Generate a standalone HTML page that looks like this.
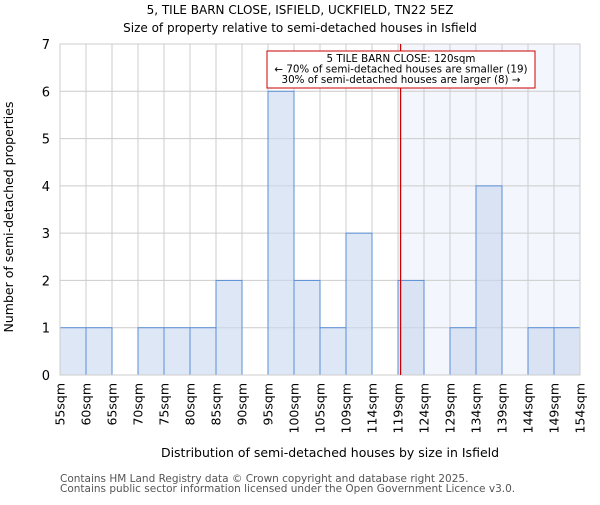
<!DOCTYPE html>
<html><head><meta charset="utf-8"><style>
body{margin:0;background:#fff}
svg{font-family:"DejaVu Sans","Liberation Sans",sans-serif}
</style></head><body>
<svg width="600" height="500">
<text x="300" y="14" text-anchor="middle" font-size="12">5, TILE BARN CLOSE, ISFIELD, UCKFIELD, TN22 5EZ</text>
<text x="300" y="32" text-anchor="middle" font-size="12">Size of property relative to semi-detached houses in Isfield</text>
<g id="plot"></g>
<text x="330" y="457" text-anchor="middle" font-size="12.5">Distribution of semi-detached houses by size in Isfield</text>
<text transform="translate(13,217) rotate(-90)" text-anchor="middle" font-size="12.5">Number of semi-detached properties</text>
<text x="60" y="482" font-size="10.5" fill="#555">Contains HM Land Registry data © Crown copyright and database right 2025.</text>
<text x="60" y="492" font-size="10.5" fill="#555">Contains public sector information licensed under the Open Government Licence v3.0.</text>
</svg>
<script>
const edgeLabels=["55sqm","60sqm","65sqm","70sqm","75sqm","80sqm","85sqm","90sqm","95sqm","100sqm","105sqm","109sqm","114sqm","119sqm","124sqm","129sqm","134sqm","139sqm","144sqm","149sqm","154sqm"];
const counts=[1,1,0,1,1,1,2,0,6,2,1,3,0,2,0,1,4,0,1,1];
const yTicks=[0,1,2,3,4,5,6,7];
const propertyBin=13.1;
const NS="http://www.w3.org/2000/svg";
const g=document.getElementById('plot');
const L=60,R=580,T=44,B=375,yMax=7;
const bw=(R-L)/counts.length;
const xs=i=>L+i*bw;
const ys=v=>B-(v/yMax)*(B-T);
function el(t,a){const e=document.createElementNS(NS,t);for(const k in a)e.setAttribute(k,a[k]);g.appendChild(e);return e;}
const px=xs(propertyBin);
let s=el('rect',{x:xs(13),y:T,width:R-xs(13),height:B-T,fill:'#f3f6fd'});


yTicks.forEach(v=>{const l=el('line',{x1:L,x2:R,y1:ys(v),y2:ys(v),stroke:'#ccc'});


const t=el('text',{x:L-10,y:ys(v)+5,'text-anchor':'end','font-size':13});t.textContent=v;

});
edgeLabels.forEach((lab,i)=>{const x=xs(i);const l=el('line',{x1:x,x2:x,y1:T,y2:B,stroke:'#ccc'});


const t=el('text',{transform:`translate(${x+4.5},${B+8}) rotate(-90)`,'text-anchor':'end','font-size':12.5});t.textContent=lab;

});
counts.forEach((c,i)=>{if(!c)return;const r=el('rect',{x:xs(i),y:ys(c),width:bw,height:B-ys(c),fill:'rgba(200,215,238,0.6)',stroke:'#5b8fd6','stroke-width':1});

});
let f=el('rect',{x:L,y:T,width:R-L,height:B-T,fill:'none',stroke:'#ccc'});


let pl=el('line',{x1:px,x2:px,y1:T,y2:B,stroke:'#c00','stroke-width':1.2});


let bx=el('rect',{x:267,y:51,width:268,height:37,fill:'#fff',stroke:'#c00'});


["5 TILE BARN CLOSE: 120sqm","← 70% of semi-detached houses are smaller (19)","30% of semi-detached houses are larger (8) →"].forEach((t,i)=>{const e=el('text',{x:401,y:62+i*10.5,'text-anchor':'middle','font-size':10.3});e.textContent=t;

});
</script>
</body></html>
